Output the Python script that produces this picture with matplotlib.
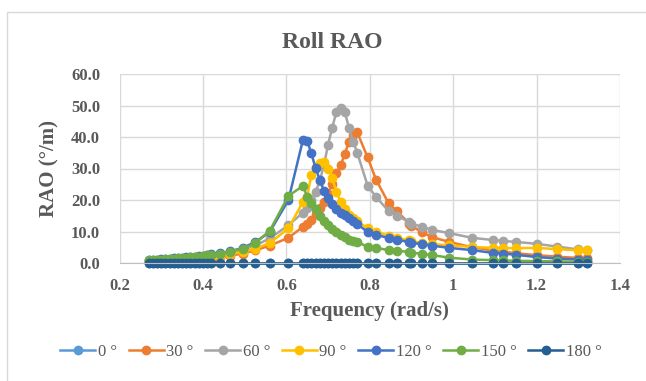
import matplotlib
matplotlib.use("Agg")
import matplotlib.pyplot as plt
from matplotlib.patches import Rectangle

plt.rcParams['font.family'] = ['Liberation Serif', 'DejaVu Serif']

# frequency grid (rad/s)
freq = [0.27, 0.28, 0.29, 0.30, 0.31, 0.32, 0.33, 0.34, 0.35, 0.36, 0.37, 0.38, 0.39, 0.40, 0.41, 0.42,
        0.44, 0.465, 0.495, 0.525, 0.56, 0.605,
        0.64, 0.65, 0.66, 0.67, 0.68, 0.69, 0.70, 0.71, 0.72, 0.73, 0.74, 0.75, 0.76, 0.77,
        0.795, 0.815, 0.845, 0.865, 0.895, 0.90, 0.925, 0.95, 0.99, 1.045, 1.095, 1.12, 1.15, 1.20, 1.25, 1.30, 1.32]

rao_0 = [0, 0, 0, 0, 0, 0, 0, 0, 0, 0, 0, 0, 0, 0, 0, 0,
         0, 0, 0, 0, 0, 0,
         0, 0, 0, 0, 0, 0, 0, 0, 0, 0, 0, 0, 0, 0,
         0, 0, 0, 0, 0, 0, 0, 0, 0, 0, 0, 0, 0, 0, 0, 0, 0]
rao_30 = [0.3, 0.35, 0.4, 0.45, 0.5, 0.55, 0.6, 0.65, 0.7, 0.75, 0.8, 0.9, 1.0, 1.1, 1.2, 1.4,
          1.8, 2.3, 3.0, 4.0, 5.5, 8.0,
          11.5, 12.3, 13.5, 15.5, 17.5, 19.5, 22.0, 25.0, 28.5, 31.0, 34.5, 38.5, 40.5, 41.5,
          33.5, 26.5, 19.0, 16.5, 12.5, 11.8, 9.8, 8.2, 6.7, 5.0, 4.0, 3.6, 3.1, 2.5, 2.0, 1.6, 1.5]
rao_60 = [0.6, 0.65, 0.7, 0.75, 0.8, 0.9, 1.0, 1.1, 1.2, 1.3, 1.4, 1.5, 1.6, 1.7, 1.9, 2.1,
          2.5, 3.0, 4.2, 5.5, 7.8, 12.0,
          16.0, 17.5, 20.0, 22.5, 26.0, 31.0, 37.5, 43.0, 48.0, 49.3, 48.0, 43.0, 38.5, 35.0,
          24.5, 21.0, 16.5, 15.0, 13.0, 12.5, 11.5, 10.5, 9.5, 8.0, 7.3, 7.0, 6.7, 6.1, 5.2, 4.3, 4.1]
rao_90 = [0.5, 0.55, 0.6, 0.65, 0.7, 0.75, 0.8, 0.9, 1.0, 1.1, 1.2, 1.3, 1.4, 1.5, 1.7, 1.9,
          2.3, 2.8, 3.6, 4.5, 6.3, 11.0,
          19.5, 21.0, 28.0, 30.5, 31.8, 32.2, 30.0, 27.0, 22.5, 19.5, 17.0, 15.3, 14.2, 13.3,
          11.0, 10.0, 8.6, 8.0, 7.2, 6.9, 6.4, 6.0, 5.6, 5.1, 4.8, 4.8, 4.7, 4.8, 4.4, 4.0, 4.1]
rao_120 = [0.9, 1.0, 1.1, 1.2, 1.3, 1.4, 1.5, 1.6, 1.7, 1.8, 1.9, 2.0, 2.1, 2.3, 2.5, 2.7,
           3.1, 3.7, 4.8, 6.6, 9.8, 20.0,
           39.2, 38.8, 34.8, 30.2, 26.5, 23.0, 20.5, 18.6, 17.2, 16.0, 15.2, 14.3, 13.4, 12.4,
           9.8, 9.0, 7.9, 7.3, 6.7, 6.5, 5.9, 5.5, 4.8, 4.1, 3.2, 3.0, 2.6, 1.9, 1.4, 1.1, 1.0]
rao_150 = [0.8, 0.9, 1.0, 1.1, 1.2, 1.3, 1.4, 1.5, 1.6, 1.7, 1.8, 1.9, 2.0, 2.2, 2.4, 2.6,
           3.0, 3.6, 4.6, 6.2, 10.2, 21.3,
           24.5, 21.0, 19.0, 17.0, 15.0, 13.4, 12.0, 10.8, 9.8, 8.8, 8.1, 7.4, 7.0, 6.6,
           5.2, 4.8, 4.1, 3.9, 3.5, 3.3, 2.9, 2.5, 1.7, 1.1, 0.9, 0.8, 0.7, 0.6, 0.5, 0.4, 0.4]
rao_180 = [0, 0, 0, 0, 0, 0, 0, 0, 0, 0, 0, 0, 0, 0, 0, 0,
           0, 0, 0, 0, 0, 0,
           0, 0, 0, 0, 0, 0, 0, 0, 0, 0, 0, 0, 0, 0,
           0, 0, 0, 0, 0, 0, 0, 0, 0, 0, 0, 0, 0, 0, 0, 0, 0]

headings = ['0 °', '30 °', '60 °', '90 °', '120 °', '150 °', '180 °']
series = [rao_0, rao_30, rao_60, rao_90, rao_120, rao_150, rao_180]
colors = ['#5B9BD5', '#ED7D31', '#A5A5A5', '#FFC000', '#4472C4', '#70AD47', '#255E91']

x_ticks = [0.2, 0.4, 0.6, 0.8, 1.0, 1.2, 1.4]
x_tick_labels = ['0.2', '0.4', '0.6', '0.8', '1', '1.2', '1.4']
y_ticks = [0, 10, 20, 30, 40, 50, 60]

txt = '#595959'
fig = plt.figure(figsize=(6.46, 3.81), dpi=100)
fig.patches.append(Rectangle((7/646, -0.1), 1.2, 1.1 - 12/381 + 0.0, transform=fig.transFigure,
                             fill=False, edgecolor='#D9D9D9', linewidth=1.0))
ax = fig.add_axes([119.5/646, 1 - 263/381, 500.5/646, 189/381])

for vals, c, lab in zip(series, colors, headings):
    ax.plot(freq, vals, '-o', color=c, lw=1.8, ms=6, label=lab, clip_on=False)

ax.set_xlim(0.2, 1.4)
ax.set_ylim(0, 60)
ax.set_xticks(x_ticks)
ax.set_xticklabels(x_tick_labels)
ax.set_yticks(y_ticks)
ax.set_yticklabels(['%.1f' % v for v in y_ticks])
ax.grid(True, color='#D9D9D9', lw=1.0)
ax.set_axisbelow(True)
for s in ['top', 'right', 'left']:
    ax.spines[s].set_visible(False)
ax.spines['bottom'].set_color('#BFBFBF')
ax.tick_params(axis='both', length=0, labelsize=12, labelcolor=txt)
ax.tick_params(axis='x', pad=11)
ax.tick_params(axis='y', pad=14)
for t in ax.get_xticklabels() + ax.get_yticklabels():
    t.set_fontweight('bold')

ax.set_xlabel('Frequency (rad/s)', fontsize=15, fontweight='bold', color=txt)
ax.xaxis.set_label_coords(0.5, -0.2)
ax.set_ylabel('RAO (°/m)', fontsize=15, fontweight='bold', color=txt)
ax.yaxis.set_label_coords(-0.119, 0.5)

fig.text(332/646, 1 - 42/381, 'Roll RAO', ha='center', va='center', fontsize=17,
         fontweight='bold', color=txt)

fig.legend(loc='center', bbox_to_anchor=(331/646, 1 - 352/381), ncol=7, frameon=False,
           fontsize=12, handlelength=2.1, handletextpad=0.15, columnspacing=0.7,
           labelcolor=txt, markerscale=1.0)

fig.savefig('out.png', dpi=100)
